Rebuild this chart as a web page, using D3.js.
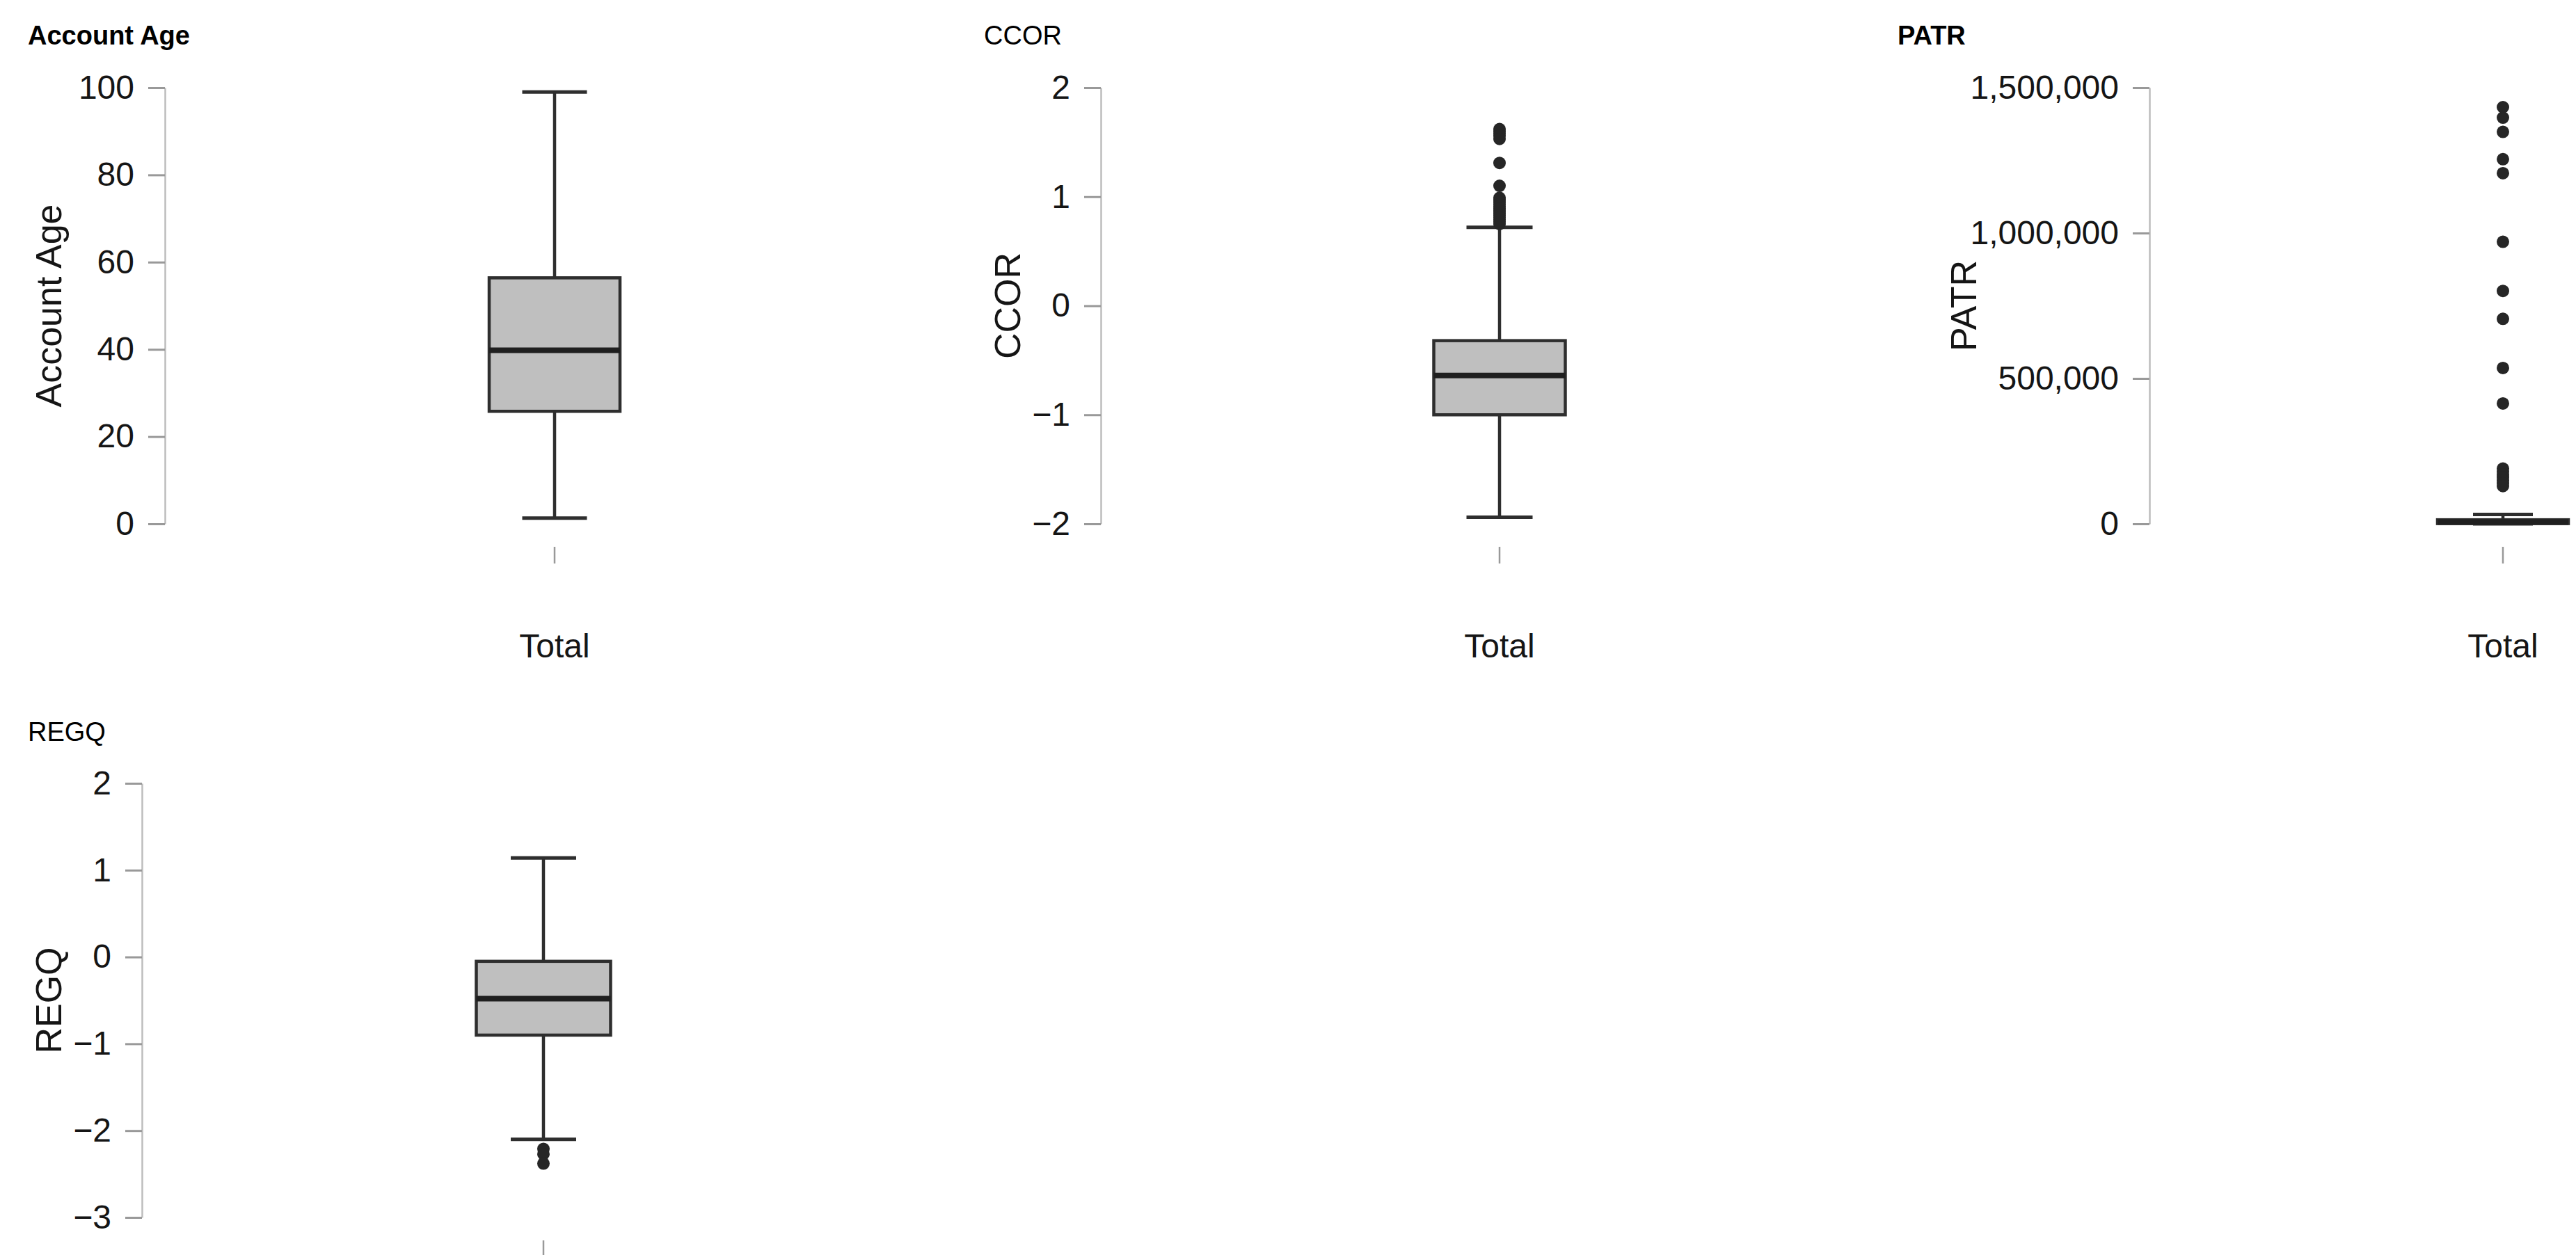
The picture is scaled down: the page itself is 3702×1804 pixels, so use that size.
<!DOCTYPE html>
<html>
<head>
<meta charset="utf-8">
<script src="https://cdn.jsdelivr.net/npm/d3@7"></script>
<style>
    body { margin: 0; background: #fff; }
    svg text { font-family: "Liberation Sans", Arial, sans-serif; fill: #151515; }
</style>
</head>
<body>
<svg id="chart" width="3702" height="1804"></svg>
<script>
// variables shown, one box plot each
const variableNames = ["Account Age", "CCOR", "PATR", "REGQ"];
const groupLabels = ["Total"];

// y tick values per panel
const accountAgeTicks = [0, 20, 40, 60, 80, 100];
const ccorTicks = [-2, -1, 0, 1, 2];
const patrTicks = [0, 500000, 1000000, 1500000];
const regqTicks = [-3, -2, -1, 0, 1, 2];

// lower whisker, Q1, median, Q3, upper whisker
const accountAgeBox = [1.3, 25.8, 39.8, 56.4, 99.0];
const ccorBox = [-1.94, -1.0, -0.64, -0.32, 0.72];
const patrBox = [0, 1000, 6000, 14000, 32000];
const regqBox = [-2.10, -0.90, -0.48, -0.05, 1.14];

// outliers
const accountAgeOutliers = [];
const ccorOutliers = [1.62, 1.60, 1.58, 1.56, 1.53, 1.31, 1.10, 0.99, 0.97, 0.95, 0.93, 0.91, 0.89, 0.87, 0.85, 0.83, 0.81, 0.79, 0.77, 0.75];
const patrOutliers = [1433000, 1397000, 1348000, 1254000, 1206000, 970000, 801000, 705000, 536000, 414000, 190000, 180000, 170000, 160000, 150000, 140000, 130000];
const regqOutliers = [-2.21, -2.27, -2.38];

const panels = [
    { ticks: accountAgeTicks, box: accountAgeBox, outliers: accountAgeOutliers, bold: true },
    { ticks: ccorTicks, box: ccorBox, outliers: ccorOutliers, bold: false },
    { ticks: patrTicks, box: patrBox, outliers: patrOutliers, bold: true },
    { ticks: regqTicks, box: regqBox, outliers: regqOutliers, bold: false }
];

// where each panel sits on the page
const layout = [
    { titleX: 40, titleY: 64, axisX: 237, top: 126, bottom: 753, boxX: 797, boxW: 188, capW: 93, labelX: 70 },
    { titleX: 1414, titleY: 64, axisX: 1582, top: 126, bottom: 753, boxX: 2155, boxW: 189, capW: 95, labelX: 1448 },
    { titleX: 2727, titleY: 64, axisX: 3089, top: 126, bottom: 753, boxX: 3597, boxW: 188, capW: 86, labelX: 2822 },
    { titleX: 40, titleY: 1065, axisX: 204, top: 1126, bottom: 1750, boxX: 781, boxW: 193, capW: 94, labelX: 70 }
];

const pageHeight = 1804;
const tickFont = 48;
const lineColor = "#2e2e2e";

const svg = d3.select("#chart");
const numberFormat = d3.format(",");

panels.forEach((panel, i) => {
    const pos = layout[i];
    const g = svg.append("g").attr("class", "panel");

    g.append("text")
        .text(variableNames[i])
        .attr("x", pos.titleX)
        .attr("y", pos.titleY)
        .attr("font-size", 38)
        .attr("font-weight", panel.bold ? "bold" : "normal")
        .style("fill", "#000");

    const scale_y = d3.scaleLinear()
        .domain(d3.extent(panel.ticks))
        .range([pos.bottom, pos.top]);

    const scale_x = d3.scaleBand()
        .domain(groupLabels)
        .range([pos.boxX - pos.boxW / 2, pos.boxX + pos.boxW / 2]);

    const axis = g.append("g")
        .attr("transform", `translate(${pos.axisX},0)`)
        .call(d3.axisLeft(scale_y)
            .tickValues(panel.ticks)
            .tickSize(24)
            .tickSizeOuter(0)
            .tickPadding(20)
            .tickFormat(numberFormat));

    axis.select(".domain").attr("stroke", "#bdbdbd").attr("stroke-width", 2.5);
    axis.selectAll(".tick line").attr("stroke", "#999").attr("stroke-width", 3);
    axis.selectAll(".tick text")
        .attr("font-size", tickFont)
        .attr("font-family", "Liberation Sans, Arial, sans-serif")
        .style("fill", "#151515");

    // y axis title
    g.append("text")
        .text(variableNames[i])
        .attr("transform", `translate(${pos.labelX},${(pos.top + pos.bottom) / 2}) rotate(-90)`)
        .attr("text-anchor", "middle")
        .attr("dominant-baseline", "central")
        .attr("font-size", 52);

    const [low, q1, med, q3, high] = panel.box;
    const cx = scale_x("Total") + scale_x.bandwidth() / 2;

    // whisker
    g.append("line")
        .attr("x1", cx).attr("x2", cx)
        .attr("y1", scale_y(low)).attr("y2", scale_y(high))
        .attr("stroke", lineColor).attr("stroke-width", 4.5);

    [low, high].forEach(v => {
        g.append("line")
            .attr("x1", cx - pos.capW / 2).attr("x2", cx + pos.capW / 2)
            .attr("y1", scale_y(v)).attr("y2", scale_y(v))
            .attr("stroke", lineColor).attr("stroke-width", 5);
    });

    g.append("rect")
        .attr("x", scale_x("Total"))
        .attr("y", scale_y(q3))
        .attr("width", scale_x.bandwidth())
        .attr("height", scale_y(q1) - scale_y(q3))
        .attr("fill", "#bfbfbf")
        .attr("stroke", lineColor)
        .attr("stroke-width", 4.5);

    g.append("line")
        .attr("x1", scale_x("Total")).attr("x2", scale_x("Total") + scale_x.bandwidth())
        .attr("y1", scale_y(med)).attr("y2", scale_y(med))
        .attr("stroke", "#1f1f1f").attr("stroke-width", 8);

    g.selectAll(".outlier")
        .data(panel.outliers)
        .join("circle")
        .attr("class", "outlier")
        .attr("cx", cx)
        .attr("cy", d => scale_y(d))
        .attr("r", 9)
        .attr("fill", "#262626");

    // x axis: one small tick and the group label (the bottom row is cut by the page edge)
    g.append("line")
        .attr("x1", cx).attr("x2", cx)
        .attr("y1", pos.bottom + 33).attr("y2", Math.min(pos.bottom + 57, pageHeight))
        .attr("stroke", "#999").attr("stroke-width", 2.5);

    if (pos.bottom + 192 < pageHeight) {
        g.append("text")
            .text(groupLabels[0])
            .attr("x", cx)
            .attr("y", pos.bottom + 192)
            .attr("text-anchor", "middle")
            .attr("font-size", tickFont);
    }
});
</script>
</body>
</html>
